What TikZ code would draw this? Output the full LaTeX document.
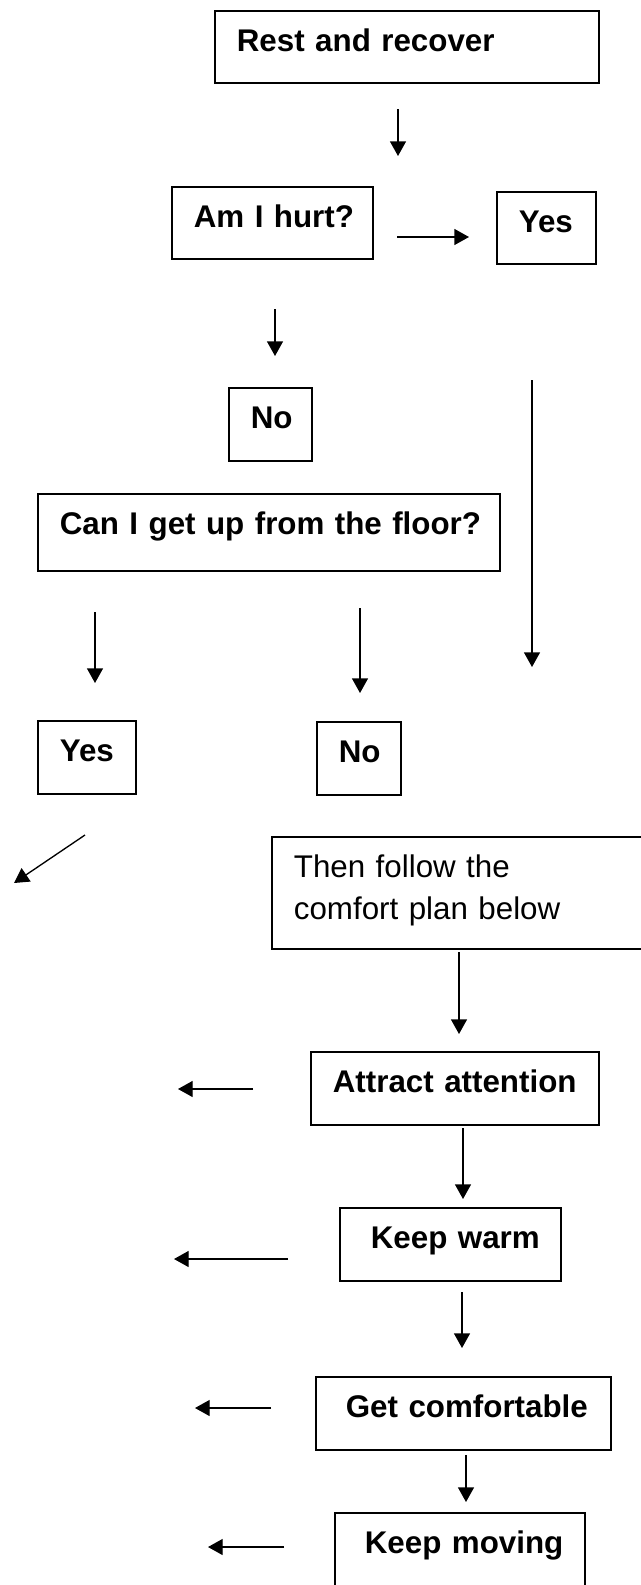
\documentclass[tikz,border=0pt]{standalone}
\usepackage{fontspec}
\setmainfont{Liberation Sans}
\usetikzlibrary{arrows.meta,positioning}

\begin{document}
\begin{tikzpicture}[x=0.75pt,y=-0.75pt,
  box/.style={draw,line width=1.3pt,rectangle,anchor=north west,align=left,
    inner xsep=0pt,inner ysep=0pt,text height=30.75pt,text depth=24pt,
    execute at begin node={\leftskip=16.5pt},
    font=\fontsize{23.5pt}{31.5pt}\selectfont\bfseries},
  pad/.style={execute at begin node={\leftskip=#1}},
  arr/.style={line width=1pt,-{Triangle[length=11pt,width=12pt]}}]

\useasboundingbox (0,0) rectangle (640,1585);

% question boxes
\node [box,text width=288pt,text depth=23.25pt] (rest) at (214,10) {Rest and recover};
\node [box,text width=150.75pt,text depth=23.25pt] (hurt) at (171,186) {Am I hurt?};
\node [box,text width=74.25pt,text depth=23.25pt] (yesa) at (496,191) {Yes};
\node [box,text width=62.25pt] (noa) at (228,387) {No};
\node [box,text width=346.5pt,text depth=27pt] (floor) at (37,493) {Can I get up from the floor?};
\node [box,text width=73.5pt] (yesb) at (37,720) {Yes};
\node [box,text width=63pt] (nob) at (316,721) {No};

% comfort plan
\node [box,text width=300pt,text depth=53.25pt,font=\fontsize{23.5pt}{31.5pt}\selectfont] (plan) at (271,836) {Then follow the\\comfort plan below};
\node [box,text width=216pt] (attract) at (310,1051) {Attract attention};
\node [box,pad=23.25pt,text width=165.75pt] (warm) at (339,1207) {Keep warm};
\node [box,pad=22.5pt,text width=221.25pt] (comfy) at (315,1376) {Get comfortable};
\node [box,pad=22.5pt,text width=187.5pt,text depth=45pt] (moving) at (334,1512) {Keep moving};

% arrows
\def\arrows{1/398/109/398/156,2/397/237/469/237,3/275/309/275/356,4/532/380/532/667,
  5/95/612/95/683,6/360/608/360/693,7/85/835/14/883,8/459/952/459/1034,
  9/253/1089/178/1089,10/463/1128/463/1199,11/288/1259/174/1259,12/462/1292/462/1348,
  13/271/1408/195/1408,14/466/1455/466/1502,15/284/1547/208/1547}
\foreach \i/\xa/\ya/\xb/\yb in \arrows {
  \coordinate (s\i) at (\xa,\ya);
  \coordinate (t\i) at (\xb,\yb);
  \draw [arr] (s\i) -- (t\i);
}

\end{tikzpicture}
\end{document}
